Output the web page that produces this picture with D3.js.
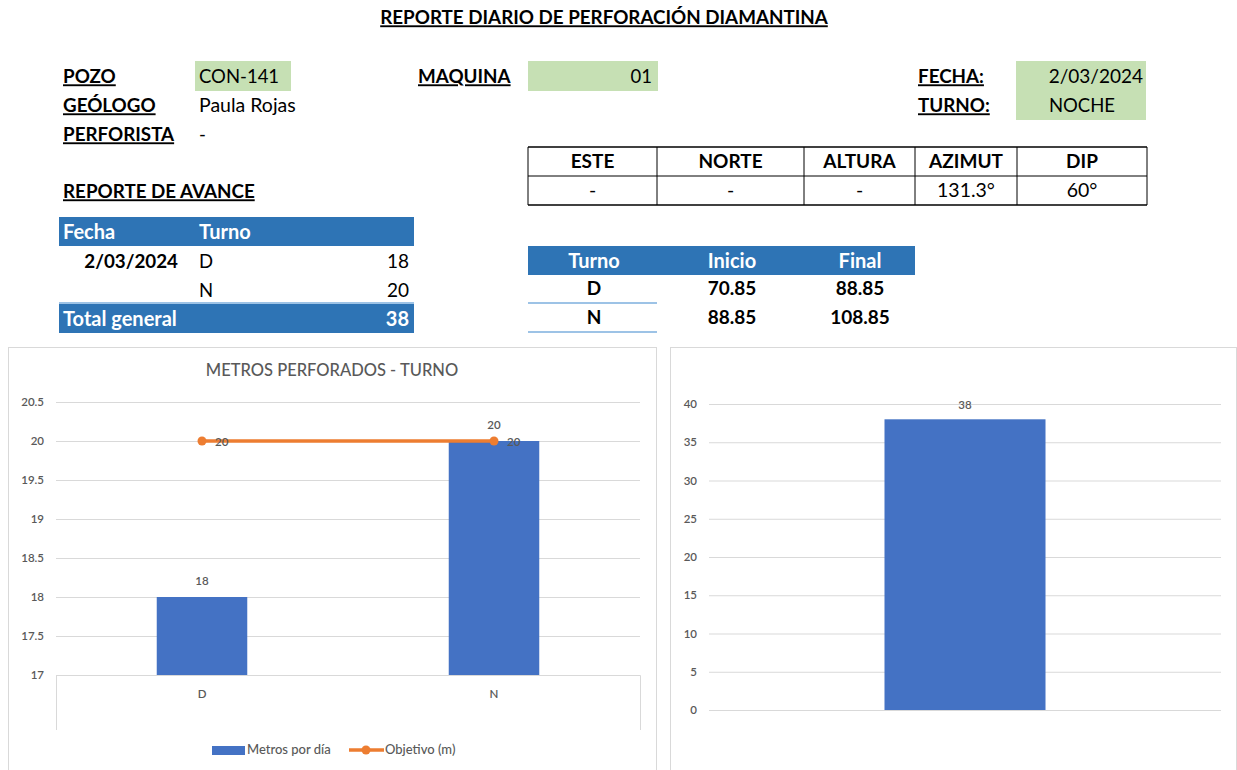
<!DOCTYPE html>
<html>
<head>
<meta charset="utf-8">
<script src="https://cdn.jsdelivr.net/npm/d3@7"></script>
<style>
  body { margin: 0; background: #fff; }
  svg { display: block; font-family: Lato, "Open Sans", sans-serif; }
  .u { text-decoration: underline; font-weight: bold; }
</style>
</head>
<body>
<svg id="chart" width="1237" height="770"></svg>
<script>
// ---- data ----
const turnos = ["D", "N"];
const metrosPorDia = [18, 20];
const objetivo = [20, 20];
const totalGeneral = [38];
const leftTicks = [17, 17.5, 18, 18.5, 19, 19.5, 20, 20.5];
const rightTicks = [0, 5, 10, 15, 20, 25, 30, 35, 40];
const coordHeaders = ["ESTE", "NORTE", "ALTURA", "AZIMUT", "DIP"];
const coordValues = ["-", "-", "-", "131.3°", "60°"];
const avanceInicio = ["70.85", "88.85"];
const avanceFinal = ["88.85", "108.85"];

const svg = d3.select("#chart");
const blue = "#2e74b5", lightBlue = "#9dc3e6", green = "#c6e0b4";
const barColor = "#4472c4", lineColor = "#ed7d31", gray = "#595959";

// helper for the spreadsheet-like text cells
function txt(x, y, s, opts = {}) {
  const t = svg.append("text").attr("x", x).attr("y", y + 1.5).text(s)
    .attr("font-size", opts.size || 18.5)
    .attr("fill", opts.fill || "#000")
    .attr("text-anchor", opts.anchor || "start")
    .attr("dominant-baseline", "middle");
  if (opts.bold) t.attr("font-weight", "bold");
  if (opts.cls) t.attr("class", opts.cls);
  return t;
}

// ---- header ----
txt(604, 18, "REPORTE DIARIO DE PERFORACIÓN DIAMANTINA", {anchor: "middle", cls: "u", size: 18.8});

svg.append("rect").attr("x", 195).attr("y", 61).attr("width", 96).attr("height", 30).attr("fill", green);
svg.append("rect").attr("x", 528).attr("y", 61).attr("width", 130).attr("height", 30).attr("fill", green);
svg.append("rect").attr("x", 1016).attr("y", 61).attr("width", 130).attr("height", 59).attr("fill", green);

txt(63, 77, "POZO", {cls: "u", size: 18.8});
txt(63, 106, "GEÓLOGO", {cls: "u", size: 18.8});
txt(63, 135, "PERFORISTA", {cls: "u", size: 18.8});
txt(63, 192, "REPORTE DE AVANCE", {cls: "u", size: 18.8});
txt(199, 77, "CON-141");
txt(199, 106, "Paula Rojas", {size: 19.5});
txt(199, 135, "-");
txt(418, 77, "MAQUINA", {cls: "u", size: 18.8});
txt(652, 77, "01", {anchor: "end"});
txt(918, 77, "FECHA:", {cls: "u", size: 18.8});
txt(918, 106, "TURNO:", {cls: "u", size: 18.8});
txt(1143, 77, "2/03/2024", {anchor: "end", size: 19});
txt(1082, 106, "NOCHE", {anchor: "middle"});

// ---- coordinates table ----
const colEdges = [528, 657, 804, 915, 1017, 1147];
[147, 176, 205].forEach(y => {
  svg.append("line").attr("x1", 528).attr("x2", 1147).attr("y1", y).attr("y2", y)
    .attr("stroke", "#000").attr("stroke-width", y === 176 ? 1 : 1.5);
});
colEdges.forEach(x => {
  svg.append("line").attr("x1", x).attr("x2", x).attr("y1", 147).attr("y2", 205)
    .attr("stroke", "#000").attr("stroke-width", 1);
});
coordHeaders.forEach((h, i) => {
  const cx = (colEdges[i] + colEdges[i + 1]) / 2;
  txt(cx, 162, h, {anchor: "middle", bold: true, size: 19});
  txt(cx, 191, coordValues[i], {anchor: "middle", size: 19.5});
});

// ---- pivot table ----
svg.append("rect").attr("x", 59).attr("y", 217).attr("width", 355).attr("height", 29).attr("fill", blue);
txt(63, 232, "Fecha", {bold: true, fill: "#fff", size: 20});
txt(199, 232, "Turno", {bold: true, fill: "#fff", size: 20});
txt(178, 262, "2/03/2024", {bold: true, anchor: "end", size: 18.8});
turnos.forEach((t, i) => {
  txt(199, 262 + i * 29, t);
  txt(409, 262 + i * 29, metrosPorDia[i], {anchor: "end", size: 19});
});
svg.append("line").attr("x1", 59).attr("x2", 414).attr("y1", 303).attr("y2", 303)
  .attr("stroke", lightBlue).attr("stroke-width", 2);
svg.append("rect").attr("x", 59).attr("y", 304).attr("width", 355).attr("height", 29).attr("fill", blue);
txt(63, 319, "Total general", {bold: true, fill: "#fff", size: 20});
txt(409, 319, totalGeneral[0], {bold: true, fill: "#fff", anchor: "end", size: 20});

// ---- avance table ----
svg.append("rect").attr("x", 528).attr("y", 246).attr("width", 387).attr("height", 29).attr("fill", blue);
const avCols = [594, 732, 860];
["Turno", "Inicio", "Final"].forEach((h, i) => txt(avCols[i], 261, h, {bold: true, fill: "#fff", anchor: "middle", size: 20}));
turnos.forEach((t, i) => {
  const y = 289 + i * 29;
  txt(avCols[0], y, t, {bold: true, anchor: "middle", size: 19});
  txt(avCols[1], y, avanceInicio[i], {bold: true, anchor: "middle", size: 19});
  txt(avCols[2], y, avanceFinal[i], {bold: true, anchor: "middle", size: 19});
  svg.append("line").attr("x1", 528).attr("x2", 657).attr("y1", y + 14).attr("y2", y + 14)
    .attr("stroke", lightBlue).attr("stroke-width", 2);
});

// ---- chart panels ----
svg.append("rect").attr("x", 8.5).attr("y", 347.5).attr("width", 648).attr("height", 430)
  .attr("fill", "#fff").attr("stroke", "#d9d9d9");
svg.append("rect").attr("x", 670.5).attr("y", 347.5).attr("width", 566).attr("height", 430)
  .attr("fill", "#fff").attr("stroke", "#d9d9d9");

// left chart: bars + objective line
const x1 = d3.scaleBand().domain(turnos).range([56, 640]).paddingInner(0.69).paddingOuter(0.345);
const y1 = d3.scaleLinear().domain([17, 20.5]).range([675, 402]);

svg.append("text").attr("x", 332).attr("y", 372).attr("text-anchor", "middle")
  .attr("dominant-baseline", "middle").attr("font-size", 16.5).attr("font-weight", 500).attr("fill", gray)
  .text("METROS PERFORADOS - TURNO");

const gy1 = svg.append("g").attr("transform", "translate(56,0)")
  .call(d3.axisLeft(y1).tickValues(leftTicks).tickSize(-584).tickPadding(12).tickFormat(d => d));
gy1.select(".domain").remove();
gy1.selectAll(".tick line").attr("stroke", "#d9d9d9");
gy1.selectAll(".tick text").attr("fill", gray).attr("font-size", 11.5).attr("font-weight", 600)
  .attr("font-family", "Lato, sans-serif");

// category axis box
svg.append("path").attr("d", "M56.5,730V675.5H640.5V730").attr("fill", "none").attr("stroke", "#d9d9d9");
turnos.forEach(t => {
  svg.append("text").attr("x", x1(t) + x1.bandwidth() / 2).attr("y", 695)
    .attr("text-anchor", "middle").attr("dominant-baseline", "middle")
    .attr("font-size", 11.5).attr("font-weight", 600).attr("fill", gray).text(t);
});

svg.append("g").selectAll("rect").data(turnos).join("rect")
  .attr("x", d => x1(d)).attr("width", x1.bandwidth())
  .attr("y", (d, i) => y1(metrosPorDia[i]))
  .attr("height", (d, i) => y1(17) - y1(metrosPorDia[i]))
  .attr("fill", barColor);
svg.append("g").selectAll("text").data(turnos).join("text")
  .attr("x", d => x1(d) + x1.bandwidth() / 2)
  .attr("y", (d, i) => y1(metrosPorDia[i]) - 15)
  .attr("text-anchor", "middle").attr("dominant-baseline", "middle")
  .attr("font-size", 11.5).attr("font-weight", 600).attr("fill", gray).text((d, i) => metrosPorDia[i]);

const line = d3.line().x((d, i) => x1(turnos[i]) + x1.bandwidth() / 2).y(d => y1(d));
svg.append("path").datum(objetivo).attr("d", line)
  .attr("fill", "none").attr("stroke", lineColor).attr("stroke-width", 3.5);
svg.append("g").selectAll("circle").data(objetivo).join("circle")
  .attr("cx", (d, i) => x1(turnos[i]) + x1.bandwidth() / 2).attr("cy", d => y1(d))
  .attr("r", 4.5).attr("fill", lineColor);
svg.append("g").selectAll("text").data(objetivo).join("text")
  .attr("x", (d, i) => x1(turnos[i]) + x1.bandwidth() / 2 + 13).attr("y", d => y1(d) + 2)
  .attr("dominant-baseline", "middle")
  .attr("font-size", 11.5).attr("font-weight", 600).attr("fill", gray).text(d => d);

// legend
svg.append("rect").attr("x", 212).attr("y", 746).attr("width", 33).attr("height", 9).attr("fill", barColor);
svg.append("text").attr("x", 247).attr("y", 751).attr("dominant-baseline", "middle")
  .attr("font-size", 13).attr("font-weight", 500).attr("fill", gray).text("Metros por día");
svg.append("line").attr("x1", 349).attr("x2", 384).attr("y1", 750).attr("y2", 750)
  .attr("stroke", lineColor).attr("stroke-width", 3.5);
svg.append("circle").attr("cx", 366).attr("cy", 750).attr("r", 4.5).attr("fill", lineColor);
svg.append("text").attr("x", 385).attr("y", 751).attr("dominant-baseline", "middle")
  .attr("font-size", 13).attr("font-weight", 500).attr("fill", gray).text("Objetivo (m)");

// right chart: total
const x2 = d3.scaleBand().domain(["Total"]).range([709, 1221]).paddingInner(0).paddingOuter(1.09);
const y2 = d3.scaleLinear().domain([0, 40]).range([710, 404]);
const gy2 = svg.append("g").attr("transform", "translate(709,0)")
  .call(d3.axisLeft(y2).tickValues(rightTicks).tickSize(-512).tickPadding(12));
gy2.select(".domain").remove();
gy2.selectAll(".tick line").attr("stroke", "#d9d9d9");
gy2.selectAll(".tick text").attr("fill", gray).attr("font-size", 11.5).attr("font-weight", 600)
  .attr("font-family", "Lato, sans-serif");

svg.append("g").selectAll("rect").data(totalGeneral).join("rect")
  .attr("x", x2("Total")).attr("width", x2.bandwidth())
  .attr("y", d => y2(d)).attr("height", d => y2(0) - y2(d))
  .attr("fill", barColor);
svg.append("g").selectAll("text").data(totalGeneral).join("text")
  .attr("x", x2("Total") + x2.bandwidth() / 2).attr("y", d => y2(d) - 13)
  .attr("text-anchor", "middle").attr("dominant-baseline", "middle")
  .attr("font-size", 11.5).attr("font-weight", 600).attr("fill", gray).text(d => d);
</script>
</body>
</html>
